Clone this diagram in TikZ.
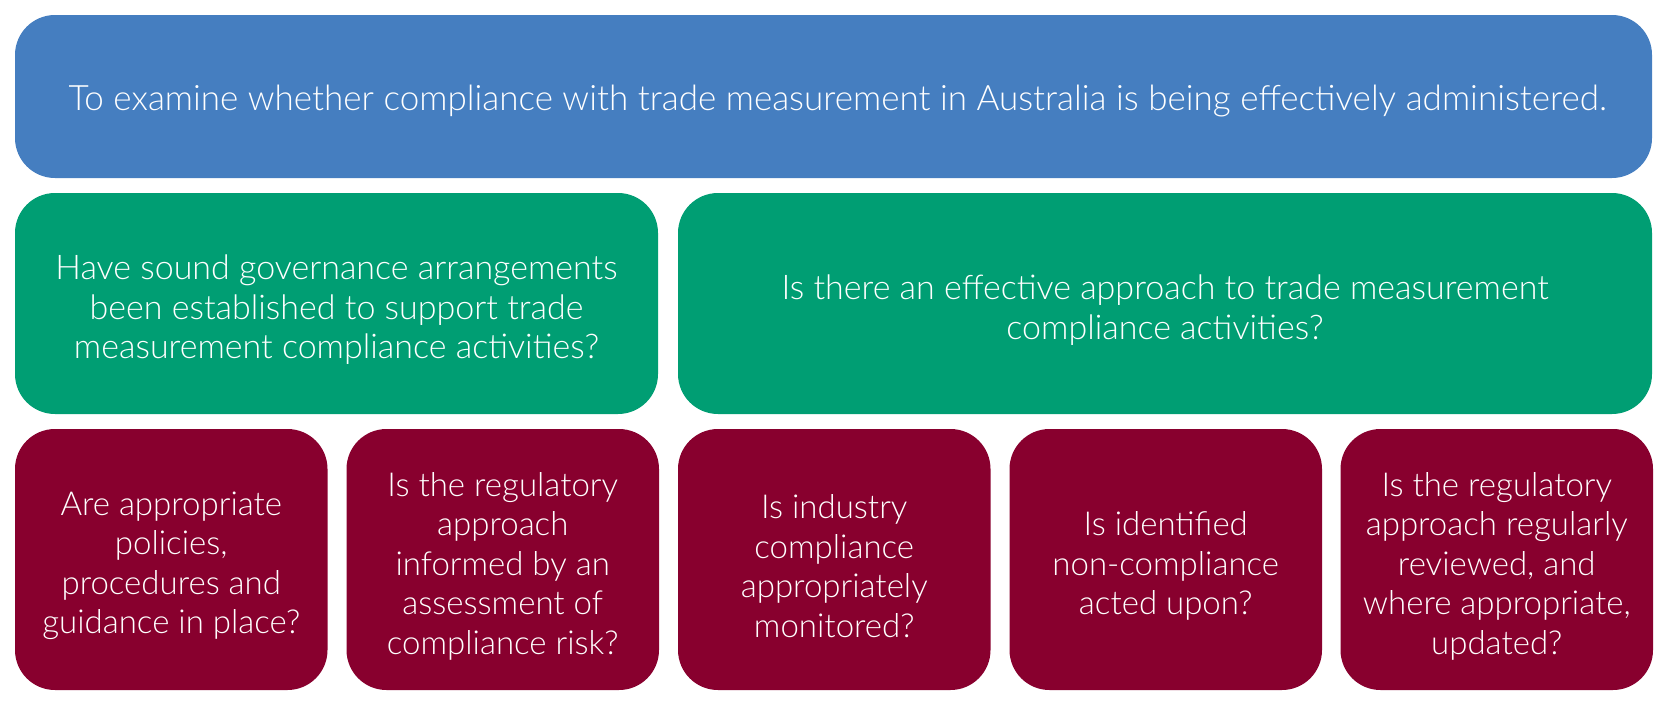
\documentclass[tikz,border=0pt]{standalone}
\usepackage{fontspec}
\setmainfont{Lato Light}
\definecolor{topblue}{RGB}{69,126,192}
\definecolor{qgreen}{RGB}{0,158,115}
\definecolor{qred}{RGB}{136,0,46}
\tikzset{
  box/.style={rounded corners=40pt, inner sep=0pt},
  label/.style={text=white, align=center, inner sep=0pt},
  topbox/.style={box, fill=topblue},
  greenbox/.style={box, fill=qgreen, minimum height=221pt},
  redbox/.style={box, fill=qred, minimum width=312.5pt, minimum height=261pt},
  toptext/.style={label, font=\fontsize{35}{42}\selectfont},
  greentext/.style={label, font=\fontsize{34}{39.5}\selectfont},
  redtext/.style={label, font=\fontsize{33}{39.5}\selectfont}
}
\begin{document}
\begin{tikzpicture}[x=1pt,y=-1pt]
\useasboundingbox (0,0) rectangle (1667,704);
\node[topbox, minimum width=1637pt, minimum height=163pt] (aim) at (833.5,96.5) {};
\node[greenbox, minimum width=643pt] (g1) at (336.5,303.5) {};
\node[greenbox, minimum width=974pt] (g2) at (1165,303.5) {};
\node[redbox] (r1) at (171.25,559.5) {};
\node[redbox] (r2) at (502.75,559.5) {};
\node[redbox] (r3) at (834.25,559.5) {};
\node[redbox] (r4) at (1165.75,559.5) {};
\node[redbox] (r5) at (1496.75,559.5) {};
\node[toptext] (aimt) at ([xshift=4pt,yshift=-5pt]aim.center)
  {To examine whether compliance with trade measurement in Australia is being effectively administered.};
\node[greentext] (g1t) at ([yshift=-6.5pt]g1.center)
  {Have sound governance arrangements\\been established to support trade\\measurement compliance activities?};
\node[greentext] (g2t) at ([yshift=-6.5pt]g2.center)
  {Is there an effective approach to trade measurement\\compliance activities?};
\node[redtext] (r1t) at ([yshift=-6.5pt]r1.center) {Are appropriate\\policies,\\procedures and\\guidance in place?};
\node[redtext] (r2t) at ([yshift=-6.5pt]r2.center) {Is the regulatory\\approach\\informed by an\\assessment of\\compliance risk?};
\node[redtext] (r3t) at ([yshift=-6.5pt]r3.center) {Is industry\\compliance\\appropriately\\monitored?};
\node[redtext] (r4t) at ([yshift=-6.5pt]r4.center) {Is identified\\non-compliance\\acted upon?};
\node[redtext] (r5t) at ([yshift=-6.5pt]r5.center) {Is the regulatory\\approach regularly\\reviewed, and\\where appropriate,\\updated?};
\end{tikzpicture}
\end{document}
